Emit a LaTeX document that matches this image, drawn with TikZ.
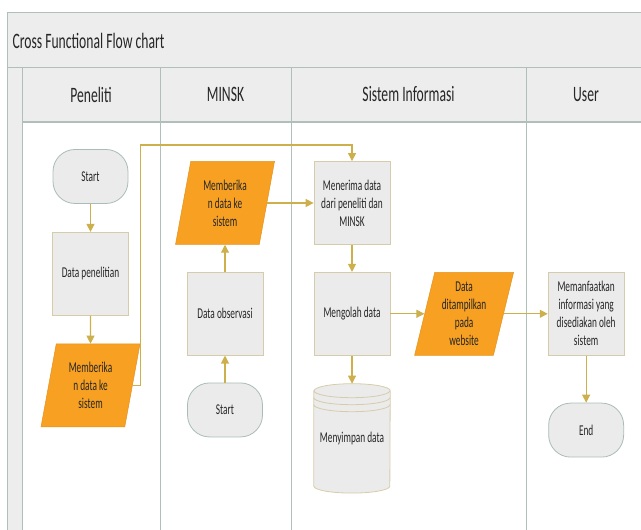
\documentclass[tikz,border=0pt]{standalone}
\usepackage{fontspec}
\setmainfont{Carlito}[FakeStretch=0.62]
\usepackage{tikz}
\usetikzlibrary{shapes,shapes.geometric,arrows.meta,positioning,calc,backgrounds}
\definecolor{bandfill}{HTML}{EDEDED}
\definecolor{laneline}{HTML}{AFC0BA}
\definecolor{boxfill}{HTML}{EBEBEB}
\definecolor{procline}{HTML}{D6CCA9}
\definecolor{termline}{HTML}{A9BDB7}
\definecolor{ioorange}{HTML}{F7A022}
\definecolor{arrgold}{HTML}{CDB04C}
\definecolor{txt}{HTML}{262626}
\tikzset{
  proc/.style={rectangle,draw=procline,fill=boxfill,line width=0.8pt,
               minimum width=76pt,minimum height=83pt,
               font=\fontsize{15}{18}\selectfont,align=center,text=txt},
  term/.style={rectangle,rounded corners=22pt,draw=termline,fill=boxfill,
               line width=0.8pt,minimum width=75pt,minimum height=54pt,
               font=\fontsize{15}{18}\selectfont,align=center,text=txt},
  iobox/.style={trapezium,trapezium left angle=74,trapezium right angle=106,
                trapezium stretches body=true,fill=ioorange,draw=ioorange!92!black,
                line width=0.5pt,minimum width=99pt,minimum height=83pt,
                inner xsep=0pt,font=\fontsize{15}{18}\selectfont,align=center,text=txt},
  storebox/.style={rectangle,minimum width=76pt,minimum height=109pt,
                   font=\fontsize{15}{18}\selectfont,align=center,text=txt},
  lanehead/.style={font=\fontsize{22}{24}\selectfont,text=txt},
  arr/.style={-{Triangle[length=8pt,width=8pt]},draw=arrgold,line width=1.1pt},
}
\begin{document}
\begin{tikzpicture}[x=1pt,y=1pt,node distance=28pt]
  \useasboundingbox (0,0) rectangle (641,530);
  %% Bands and lanes
  \fill[bandfill] (7,463) rectangle (641,518);
  \fill[bandfill] (22,408) rectangle (641,463);
  \fill[bandfill] (7,0) rectangle (22,463);
  \draw[laneline,line width=0.8pt] (7,0) -- (7,518) -- (641,518);
  \draw[laneline,line width=0.8pt] (7,463) -- (641,463);
  \foreach \x in {22,160,291,526}{
    \draw[laneline,line width=0.8pt] (\x,0) -- (\x,463);
  }
  \draw[laneline,line width=2.2pt] (22,408) -- (641,408);
  \node[lanehead,anchor=west] (title) at (9,489) {Cross Functional Flow chart};
  \node[lanehead] (hP) at (91,435.5) {Peneliti};
  \node[lanehead] (hM) at (225.5,435.5) {MINSK};
  \node[lanehead] (hS) at (408.5,435.5) {Sistem Informasi};
  \node[lanehead] (hU) at (586,435.5) {User};

  %% Peneliti
  \node[term] (startP) at (90.5,353.5) {Start};
  \node[proc,below=28pt of startP] (dataP) {Data penelitian};
  \node[iobox,below=28pt of dataP] (giveP) {Memberika\\n data ke\\sistem};

  %% MINSK
  \node[iobox] (giveM) at (225,327) {Memberika\\n data ke\\sistem};
  \node[proc,below=27pt of giveM] (obsM) {Data observasi};
  \node[term,below=27pt of obsM] (startM) {Start};

  %% Sistem Informasi
  \node[proc,right=46.5pt of giveM] (recv) {Menerima data\\dari peneliti dan\\MINSK};
  \node[proc,below=27pt of recv] (proc) {Mengolah data};
  \node[storebox,below=28pt of proc] (store) {Menyimpan data};
  \node[iobox,right=34pt of proc] (show) {Data\\ditampilkan\\pada\\website};

  %% User
  \node[proc,right=44pt of show] (use) {Memanfaatkan\\informasi yang\\disediakan oleh\\sistem};
  \node[term,below=47pt of use] (endU) {End};

  %% Cylinder outline
  \begin{scope}[on background layer]
    \draw[procline,fill=boxfill,line width=0.8pt]
      ($(store.north west)+(0,-7)$) -- ($(store.south west)+(0,7)$)
      arc[start angle=180,end angle=360,x radius=38,y radius=7]
      -- ($(store.north east)+(0,-7)$)
      arc[start angle=0,end angle=180,x radius=38,y radius=7] -- cycle;
    \foreach \d in {0,7,14}{
      \draw[procline,line width=0.8pt] ($(store.north west)+(0,-7-\d)$)
        arc[start angle=180,end angle=360,x radius=38,y radius=7];
    }
  \end{scope}

  %% Connectors
  \draw[arr] (startP) -- (dataP);
  \draw[arr] (dataP) -- (giveP);
  \coordinate (topline) at (0,385);
  \draw[arr] (giveP.east) -- ++(8,0) |- (topline -| recv.north) -- (recv.north);
  \draw[arr] (startM) -- (obsM);
  \draw[arr] (obsM) -- (giveM.south);
  \draw[arr] (giveM.east) -- (recv.west);
  \draw[arr] (recv) -- (proc);
  \draw[arr] (proc) -- (store);
  \draw[arr] (proc.east) -- (show.west);
  \draw[arr] (show.east) -- (use.west);
  \draw[arr] (use) -- (endU);
\end{tikzpicture}
\end{document}
